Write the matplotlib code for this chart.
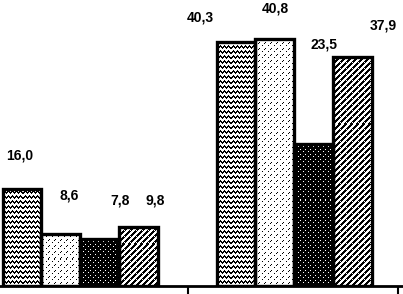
import numpy as np
import matplotlib
matplotlib.use("Agg")
import matplotlib.pyplot as plt

# values per series (4 series, 2 groups)
series_values = [
    [16.0, 40.3],
    [8.6, 40.8],
    [7.8, 23.5],
    [9.8, 37.9],
]
value_labels = [
    ["16,0", "40,3"],
    ["8,6", "40,8"],
    ["7,8", "23,5"],
    ["9,8", "37,9"],
]

# label offsets in pixels from bar top centre (hand placed like the original)
label_offsets = [
    [(-2, 34), (-36, 25)],
    [(8, 38), (1, 31)],
    [(20, 38), (10, 99)],
    [(17, 26), (31, 31)],
]

group_start = [0.0, 5.515]

W, H = 403, 294
fig = plt.figure(figsize=(W / 100, H / 100), dpi=100)
base_px = 8
ax = fig.add_axes([0, base_px / H, 1, (H - base_px) / H])
x_lo, x_hi = -0.567, 9.82
y_hi = (H - base_px) / 6.05

# textures (1 = black)
zigzag = np.array([[1, 0, 0, 0],
                   [1, 1, 0, 1],
                   [0, 1, 1, 1],
                   [0, 0, 1, 0],
                   [0, 0, 0, 0]])
dots = np.zeros((6, 6))
dots[0, 1] = dots[1, 0] = 1
dots[3, 4] = 1
dark = np.ones((5, 5))
dark[0, 0] = 0
dark[2, 3] = 0
diag = np.zeros((6, 6))
for r in range(6):
    for c in range(6):
        if (r + c) % 6 in (0, 1, 2):
            diag[r, c] = 1
diag[3, 4] = 0
textures = [zigzag, dots, dark, diag]

ax_h = int(round(H - base_px))


def tile(t, h, w):
    reps = (h // t.shape[0] + 1, w // t.shape[1] + 1)
    return np.tile(t, reps)[:h, :w]


for i, vals in enumerate(series_values):
    xs = [g + i for g in group_start]
    bars = ax.bar(xs, vals, width=1, facecolor="none", edgecolor="black",
                  linewidth=2.4, zorder=3)
    tex = tile(textures[i], ax_h, W)
    for patch in bars.patches:
        im = ax.imshow(tex, extent=(x_lo, x_hi, 0, y_hi), cmap="gray_r",
                       vmin=0, vmax=1, interpolation="nearest",
                       aspect="auto", origin="upper", zorder=2)
        im.set_clip_path(patch)
    for j, (x, v) in enumerate(zip(xs, vals)):
        dx, dy = label_offsets[i][j]
        ax.annotate(value_labels[i][j], xy=(x, v), xytext=(dx, dy),
                    textcoords="offset pixels", ha="center", va="center",
                    fontsize=10, fontweight="bold",
                    family=["Liberation Sans", "DejaVu Sans"])

ax.set_xlim(x_lo, x_hi)
ax.set_ylim(0, y_hi)
for s in ["left", "right", "top"]:
    ax.spines[s].set_visible(False)
ax.spines["bottom"].set_linewidth(2)
ax.set_yticks([])
ax.set_xticks([4.278, 9.69])
ax.set_xticklabels([])
ax.tick_params(axis="x", direction="out", length=6, width=1.5)

fig.savefig("out.png", dpi=100)
